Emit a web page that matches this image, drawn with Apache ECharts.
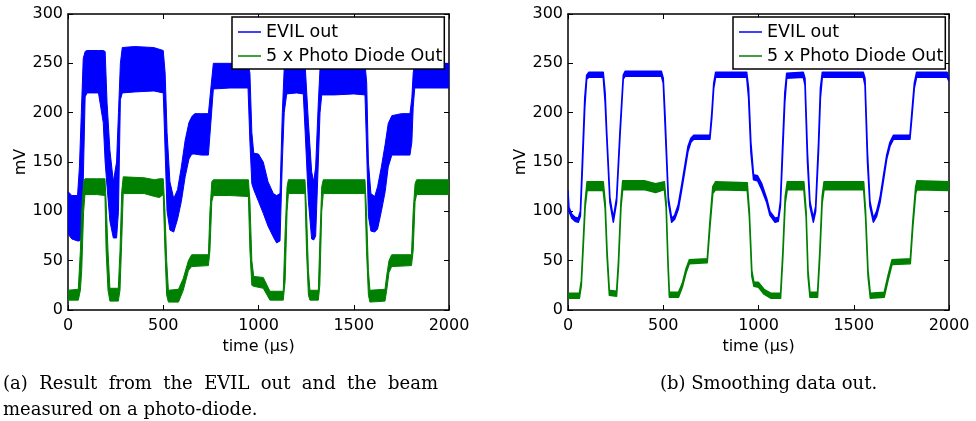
<!DOCTYPE html>
<html>
<head>
<meta charset="utf-8">
<script src="https://cdn.jsdelivr.net/npm/echarts@6/dist/echarts.min.js"></script>
<style>
html,body{margin:0;padding:0;background:#fff;}
#chart{width:976px;height:421px;}
</style>
</head>
<body>
<div id="chart"></div>
<script>
// ---- Tick labels / axes ----
const xTicks = [0, 500, 1000, 1500, 2000];
const yTicks = [0, 50, 100, 150, 200, 250, 300];
const seriesNames = ['EVIL out', '5 x Photo Diode Out'];
const captionA1 = '(a) Result from the EVIL out and the beam';
const captionA2 = 'measured on a photo-diode.';
const captionB = '(b) Smoothing data out.';

// ---- (a) raw EVIL out: noisy band, upper / lower envelope (mV) ----
const evilRawTime = [0,20,50,60,70,80,90,100,160,185,195,205,220,238,255,265,275,285,350,450,500,510,520,535,555,575,595,615,635,650,665,700,737,750,763,850,945,955,965,975,1000,1025,1050,1078,1095,1113,1125,1135,1148,1200,1235,1245,1262,1279,1290,1300,1314,1323,1332,1400,1500,1559,1568,1577,1590,1610,1625,1645,1665,1681,1700,1750,1795,1805,1812,1820,1900,2000];
const evilRawHigh = [120,116,116,145,200,255,262,263,263,263,262,210,162,130,150,200,250,266,267,266,263,240,180,130,113,122,145,172,190,196,199,199,199,225,250,250,250,240,180,159,158,150,130,118,116,118,200,245,250,250,250,248,190,140,130,145,210,245,250,250,250,250,230,150,118,115,125,145,168,189,197,199,199,215,240,250,250,250];
const evilRawLow  = [77,72,70,70,72,130,216,220,220,190,150,125,90,73,73,100,213,220,221,222,220,160,100,81,79,92,110,135,153,158,158,157,157,190,224,225,225,170,128,122,110,98,85,74,68,70,150,200,219,220,219,180,110,72,71,75,150,200,218,218,219,218,160,95,80,79,82,100,120,145,157,157,157,170,205,225,225,225];

// ---- (a) raw photo diode (x5): band (mV) ----
const pdRawTime = [0,54,65,72,82,89,150,194,200,210,220,264,273,282,290,400,455,480,500,509,518,527,580,605,632,649,737,745,755,763,850,947,955,965,975,1025,1060,1130,1140,1150,1157,1244,1252,1262,1270,1314,1322,1332,1340,1559,1567,1577,1585,1664,1673,1685,1699,1803,1812,1822,1830,2000];
const pdRawHigh = [20,21,60,100,130,133,133,133,110,60,22,22,60,120,135,134,132,133,133,100,50,20,21,32,50,56,56,100,130,132,132,132,110,50,34,33,19,19,80,125,132,132,100,40,20,20,70,125,132,132,100,40,20,21,35,50,56,56,100,128,132,132];
const pdRawLow  = [10,10,20,40,100,117,117,116,60,20,9,9,20,70,118,118,115,114,117,60,15,8,8,20,40,44,45,60,110,116,116,115,60,25,24,22,10,10,30,100,118,118,60,15,10,10,25,100,118,118,60,15,8,9,20,38,44,45,60,110,117,117];

// ---- (b) smoothed EVIL out (mV) ----
const evilSmoothTime = [0,5,20,37,54,65,75,88,98,110,185,195,203,220,238,255,273,290,300,490,500,509,527,544,560,579,597,614,630,645,660,745,755,765,775,938,948,960,974,995,1017,1043,1060,1087,1104,1115,1125,1138,1148,1235,1244,1257,1270,1288,1300,1315,1325,1335,1550,1559,1572,1585,1603,1620,1638,1655,1673,1690,1708,1795,1805,1818,1830,1990,2000];
const evilSmoothHigh = [121,104,97,94,93,100,150,215,238,241,241,220,182,114,93,114,182,238,242,242,235,200,114,93,96,107,127,147,166,174,177,177,200,230,241,241,225,170,137,136,128,113,100,93,94,110,160,220,240,241,235,160,110,93,105,170,225,241,241,235,160,110,93,100,114,135,157,170,177,177,200,230,241,241,236];
const evilSmoothLow  = [117,100,93,90,89,95,140,205,234,236,236,210,176,109,89,109,176,234,237,237,230,190,109,89,92,102,122,142,161,170,173,173,195,225,236,236,215,160,132,131,122,109,96,89,90,105,150,210,235,236,228,150,105,89,100,160,215,236,236,228,150,105,89,95,109,130,153,166,173,173,195,225,236,236,232];

// ---- (b) smoothed photo diode (x5) (mV) ----
const pdSmoothTime = [0,60,70,80,90,100,185,195,205,217,255,265,278,287,400,460,506,515,525,532,580,600,620,637,731,745,760,775,941,952,965,976,1000,1029,1064,1116,1128,1140,1151,1238,1250,1260,1270,1310,1322,1334,1344,1552,1562,1575,1587,1660,1680,1701,1797,1810,1825,1832,2000];
const pdSmoothHigh = [17,17,30,70,110,130,130,110,60,20,19,50,110,131,131,128,130,110,50,18,18,27,42,51,52,90,125,130,129,100,40,28,28,21,17,17,60,115,130,130,100,40,18,18,60,115,130,130,100,40,17,18,35,51,52,90,125,131,130];
const pdSmoothLow  = [12,12,25,64,104,121,121,103,54,15,14,44,104,122,122,119,122,104,44,13,13,23,38,47,48,84,118,122,121,94,34,24,23,16,12,12,54,108,122,122,94,34,13,13,54,108,122,122,94,34,12,13,30,46,47,84,118,122,121];

const BLUE = '#0000ff';
const GREEN = '#008000';
const AXIS_FONT = 'DejaVu Sans';
const CAPTION_FONT = '18px "DejaVu Serif"';

function bandSeries(name, color, time, high, low, axisIdx, strokeW) {
  return {
    type: 'custom',
    name: name,
    coordinateSystem: 'cartesian2d',
    xAxisIndex: axisIdx,
    yAxisIndex: axisIdx,
    clip: true,
    silent: true,
    itemStyle: { color: color },
    encode: { x: 0, y: [1, 2] },
    data: time.map((t, i) => [t, high[i], low[i]]),
    renderItem: function (params, api) {
      if (params.dataIndex !== 0) return null;
      const pts = [];
      for (let i = 0; i < time.length; i++) pts.push(api.coord([time[i], high[i]]));
      for (let i = time.length - 1; i >= 0; i--) pts.push(api.coord([time[i], low[i]]));
      return {
        type: 'polygon',
        shape: { points: pts },
        style: { fill: color, stroke: color, lineWidth: strokeW, lineJoin: 'round' }
      };
    }
  };
}

function xAxes(gridIndex) {
  const common = {
    type: 'value', gridIndex: gridIndex, min: xTicks[0], max: xTicks[xTicks.length - 1],
    interval: xTicks[1] - xTicks[0],
    splitLine: { show: false },
    axisLine: { show: true, onZero: false, lineStyle: { color: '#000', width: 1.5 } },
    axisTick: { show: true, inside: true, length: 5, lineStyle: { color: '#000', width: 1 } }
  };
  return [
    Object.assign({}, common, {
      position: 'bottom',
      axisLabel: { show: true, color: '#000', fontFamily: AXIS_FONT, fontSize: 16, margin: 8,
                   formatter: function (v) { return String(v); } },
      name: 'time (µs)', nameLocation: 'middle', nameGap: 24,
      nameTextStyle: { color: '#000', fontFamily: AXIS_FONT, fontSize: 16 }
    }),
    Object.assign({}, common, { position: 'top', axisLabel: { show: false } })
  ];
}
function yAxes(gridIndex) {
  const common = {
    type: 'value', gridIndex: gridIndex, min: yTicks[0], max: yTicks[yTicks.length - 1],
    interval: yTicks[1] - yTicks[0],
    splitLine: { show: false },
    axisLine: { show: true, onZero: false, lineStyle: { color: '#000', width: 1.5 } },
    axisTick: { show: true, inside: true, length: 5, lineStyle: { color: '#000', width: 1 } }
  };
  return [
    Object.assign({}, common, {
      position: 'left',
      axisLabel: { show: true, color: '#000', fontFamily: AXIS_FONT, fontSize: 16, margin: 5,
                   formatter: function (v) { return String(v); } },
      name: 'mV', nameLocation: 'middle', nameGap: 39, nameRotate: 90,
      nameTextStyle: { color: '#000', fontFamily: AXIS_FONT, fontSize: 16 }
    }),
    Object.assign({}, common, { position: 'right', axisLabel: { show: false } })
  ];
}

function legendFor(left) {
  return {
    orient: 'vertical',
    left: left, top: 17,
    padding: [6, 2, 4, 6],
    itemGap: 6,
    itemWidth: 23, itemHeight: 1.5,
    backgroundColor: '#fff',
    borderColor: '#000', borderWidth: 1.5, borderRadius: 0,
    selectedMode: false,
    textStyle: { color: '#000', fontFamily: AXIS_FONT, fontSize: 17.5, lineHeight: 17 },
    data: [
      { name: seriesNames[0], icon: 'rect', itemStyle: { color: BLUE } },
      { name: seriesNames[1], icon: 'rect', itemStyle: { color: GREEN } }
    ]
  };
}

// Justified caption line: words spread between x0 and x1
function justifiedLine(text, x0, x1, top) {
  const ctx = document.createElement('canvas').getContext('2d');
  ctx.font = CAPTION_FONT;
  const words = text.split(' ');
  const widths = words.map(w => ctx.measureText(w).width);
  const total = widths.reduce((a, b) => a + b, 0);
  const gap = (x1 - x0 - total) / (words.length - 1);
  const out = [];
  let x = x0;
  words.forEach((w, i) => {
    out.push({ type: 'text', x: x, y: top, style: { text: w, fill: '#000', font: CAPTION_FONT } });
    x += widths[i] + gap;
  });
  return out;
}

const chart = echarts.init(document.getElementById('chart'), null, { renderer: 'canvas' });
const option = {
  backgroundColor: '#fff',
  animation: false,
  grid: [
    { left: 68, top: 14, width: 381, height: 296 },
    { left: 568, top: 14, width: 381, height: 296 }
  ],
  xAxis: xAxes(0).concat(xAxes(1)),
  yAxis: yAxes(0).concat(yAxes(1)),
  legend: [legendFor(232), legendFor(733)],
  series: [
    bandSeries(seriesNames[0], BLUE, evilRawTime, evilRawHigh, evilRawLow, 0, 1),
    bandSeries(seriesNames[1], GREEN, pdRawTime, pdRawHigh, pdRawLow, 0, 1),
    bandSeries(seriesNames[0], BLUE, evilSmoothTime, evilSmoothHigh, evilSmoothLow, 2, 1.5),
    bandSeries(seriesNames[1], GREEN, pdSmoothTime, pdSmoothHigh, pdSmoothLow, 2, 1.5)
  ],
  graphic: justifiedLine(captionA1, 3, 438, 375).concat([
    { type: 'text', x: 3, y: 401, style: { text: captionA2, fill: '#000', font: CAPTION_FONT } },
    { type: 'text', x: 660, y: 375, style: { text: captionB, fill: '#000', font: CAPTION_FONT } }
  ])
};
chart.setOption(option);
</script>
</body>
</html>
